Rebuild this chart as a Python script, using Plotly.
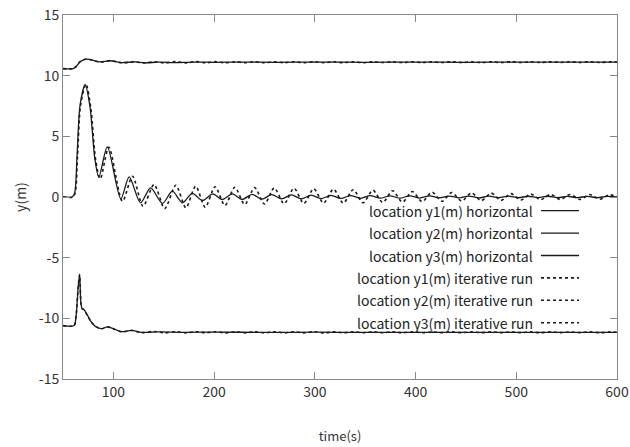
import plotly.graph_objects as go

# ---- data ----
t_top = [50, 60, 63, 67, 73.5, 79, 86.8, 96.7, 108, 121.5, 131, 145, 160, 180, 200, 230, 260, 300, 350, 400, 450, 500, 550, 600]
y1_h = [10.58, 10.58, 10.75, 11.15, 11.37, 11.28, 11.13, 11.23, 11.08, 11.13, 11.05, 11.12, 11.08, 11.12, 11.1, 11.12, 11.1, 11.12, 11.1, 11.12, 11.1, 11.12, 11.11, 11.12]
t_top_d = [50, 60, 63, 67, 73.5, 79, 86.8, 96.7, 108, 121.5, 131, 141, 151, 162, 172, 182, 192, 201, 211, 221, 231, 240, 250, 260, 270, 279, 289, 299, 309, 319, 328, 338, 348, 358, 367, 377, 387, 397, 407, 416, 426, 436, 446, 456, 465, 475, 485, 495, 505, 514, 524, 534, 544, 553, 563, 573, 583, 593, 600]
y1_i = [10.58, 10.58, 10.75, 11.15, 11.38, 11.28, 11.12, 11.24, 11.07, 11.14, 11.04, 11.15, 11.05, 11.16, 11.05, 11.16, 11.06, 11.16, 11.06, 11.15, 11.06, 11.15, 11.06, 11.15, 11.07, 11.15, 11.07, 11.15, 11.07, 11.15, 11.07, 11.15, 11.07, 11.14, 11.08, 11.14, 11.08, 11.14, 11.08, 11.14, 11.08, 11.14, 11.08, 11.14, 11.08, 11.14, 11.08, 11.14, 11.08, 11.14, 11.09, 11.14, 11.09, 11.14, 11.09, 11.14, 11.09, 11.14, 11.12]

t_mid_h = [50, 59, 61.5, 64, 67, 72, 76.7, 81.7, 85.6, 94, 107.4, 115.7, 127, 137, 148.7, 158.6, 168.5, 178.4, 188.3, 198.8, 208, 218.1, 227.9, 237.7, 247.5, 257.2, 267, 276.8, 286.6, 296.4, 306.2, 316, 325.8, 335.6, 345.4, 355.1, 364.9, 374.7, 384.5, 394.3, 404.1, 413.9, 423.7, 433.5, 443.3, 453, 462.8, 472.6, 482.4, 492.2, 502, 511.8, 521.6, 531.4, 541.2, 550.9, 560.7, 570.5, 580.3, 590.1, 600]
y2_h = [0, 0, 0.3, 3.5, 7.6, 9.26, 7.5, 3.1, 1.63, 4.13, -0.15, 1.66, -0.48, 0.76, -0.53, 0.48, -0.48, 0.3, -0.29, 0.26, -0.2, 0.26, -0.2, 0.22, -0.18, 0.2, -0.16, 0.18, -0.15, 0.15, -0.14, 0.14, -0.12, 0.12, -0.11, 0.12, -0.1, 0.1, -0.1, 0.1, -0.09, 0.09, -0.08, 0.08, -0.07, 0.08, -0.07, 0.07, -0.06, 0.07, -0.06, 0.06, -0.05, 0.06, -0.05, 0.05, -0.05, 0.05, -0.05, 0.05, 0.0]

t_mid_i = [50, 59.5, 62, 64.5, 67.5, 72.8, 77.5, 82.5, 87, 95.5, 109, 119, 129.5, 140.4, 151, 162, 172, 181.7, 191.2, 201, 210.8, 220.6, 230.4, 240.2, 250, 259.7, 269.5, 279.3, 289.1, 298.9, 308.7, 318.5, 328.3, 338.1, 347.9, 357.6, 367.4, 377.2, 387, 396.8, 406.6, 416.4, 426.2, 436, 445.8, 455.5, 465.3, 475.1, 484.9, 494.7, 504.5, 514.3, 524.1, 533.9, 543.7, 553.4, 563.2, 573, 582.8, 592.6, 600]
y2_i = [0, 0, 0.3, 3.5, 7.6, 9.3, 7.4, 3.0, 1.5, 4.1, -0.35, 1.71, -0.76, 1.03, -0.95, 0.97, -0.89, 0.89, -0.84, 0.85, -0.7, 0.8, -0.62, 0.78, -0.58, 0.75, -0.55, 0.72, -0.53, 0.68, -0.5, 0.64, -0.5, 0.6, -0.48, 0.56, -0.45, 0.52, -0.42, 0.45, -0.38, 0.4, -0.35, 0.37, -0.33, 0.34, -0.3, 0.32, -0.28, 0.28, -0.25, 0.24, -0.22, 0.22, -0.2, 0.2, -0.2, 0.2, -0.18, 0.18, 0.0]

t_bot = [50, 61, 63, 65, 66.5, 67.8, 69, 71, 74, 78, 82, 88, 94, 100, 108, 118, 128, 145, 170, 200, 250, 300, 350, 400, 450, 500, 550, 600]
y3_h = [-10.6, -10.6, -9.8, -7.5, -6.38, -8.8, -9.2, -9.3, -9.7, -10.3, -10.65, -10.85, -10.7, -10.85, -11.1, -11.0, -11.16, -11.12, -11.15, -11.13, -11.16, -11.14, -11.16, -11.15, -11.16, -11.15, -11.16, -11.16]
t_bot_d = [50, 61, 63, 65, 66.5, 67.8, 69, 71, 74, 78, 82, 88, 94, 100, 108, 118, 128, 140, 151, 162, 172, 182, 192, 201, 211, 221, 231, 240, 250, 260, 270, 279, 289, 299, 309, 319, 328, 338, 348, 358, 367, 377, 387, 397, 407, 416, 426, 436, 446, 456, 465, 475, 485, 495, 505, 514, 524, 534, 544, 553, 563, 573, 583, 593, 600]
y3_i = [-10.6, -10.6, -9.8, -7.5, -6.4, -8.7, -9.2, -9.3, -9.75, -10.3, -10.65, -10.87, -10.7, -10.87, -11.12, -11.0, -11.18, -11.08, -11.2, -11.1, -11.2, -11.1, -11.2, -11.1, -11.2, -11.1, -11.2, -11.1, -11.2, -11.1, -11.2, -11.1, -11.2, -11.1, -11.2, -11.11, -11.19, -11.11, -11.19, -11.11, -11.19, -11.11, -11.19, -11.11, -11.19, -11.12, -11.18, -11.12, -11.18, -11.12, -11.18, -11.12, -11.18, -11.12, -11.18, -11.12, -11.18, -11.12, -11.18, -11.12, -11.18, -11.12, -11.18, -11.12, -11.15]

legend_labels = ["location y1(m) horizontal", "location y2(m) horizontal", "location y3(m) horizontal",
                 "location y1(m) iterative run", "location y2(m) iterative run", "location y3(m) iterative run"]
x_ticks = [100, 200, 300, 400, 500, 600]
x_tick_text = ["100", "200", "300", "400", "500", "600"]
y_ticks = [-15, -10, -5, 0, 5, 10, 15]
y_tick_text = ["-15", "-10", "-5", "0", "5", "10", "15"]

FONT = "Noto Sans CJK KR"
LC = "#1a1a1a"

fig = go.Figure()
series = [
    (t_top, y1_h, "solid"), (t_mid_h, y2_h, "solid"), (t_bot, y3_h, "solid"),
    (t_top_d, y1_i, "dot"), (t_mid_i, y2_i, "dot"), (t_bot_d, y3_i, "dot"),
]
for (tx, ty, dash), name in zip(series, legend_labels):
    fig.add_trace(go.Scatter(x=tx, y=ty, mode="lines", name=name, showlegend=False,
                             line=dict(color=LC, width=1.3 if dash == "solid" else 1.6,
                                       dash=dash, shape="spline", smoothing=0.8)))

# custom legend: text right-aligned, sample line on the right
leg_y0 = 210.7
leg_dy = 22.4
PX0, PX1, PY0, PY1 = 63, 617, 15, 379
for i, name in enumerate(legend_labels):
    ypx = leg_y0 + i * leg_dy
    yp = 1 - (ypx - PY0) / (PY1 - PY0)
    fig.add_annotation(x=(535 - PX0) / (PX1 - PX0), y=yp, xref="paper", yref="paper",
                       text=name, showarrow=False, xanchor="right", yanchor="middle",
                       font=dict(family=FONT, size=14, color="#222"))
    fig.add_shape(type="line", xref="paper", yref="paper",
                  x0=(541 - PX0) / (PX1 - PX0), x1=(579 - PX0) / (PX1 - PX0), y0=yp, y1=yp,
                  line=dict(color=LC, width=1.3 if i < 3 else 1.6, dash="solid" if i < 3 else "dot"))

axis_common = dict(showline=True, linecolor="#888", linewidth=1, mirror="ticks",
                   ticks="inside", ticklen=7, tickcolor="#888", showgrid=False, zeroline=False,
                   automargin=False, tickfont=dict(family=FONT, size=14, color="#333"))
fig.update_xaxes(range=[50, 600], tickvals=x_ticks, ticktext=x_tick_text,
                 title=dict(text="time(s)", standoff=32, font=dict(family=FONT, size=13, color="#333")),
                 **axis_common)
fig.update_yaxes(range=[-15, 15], tickvals=y_ticks, ticktext=y_tick_text,
                 title=dict(text="y(m)", standoff=8, font=dict(family=FONT, size=14, color="#333")),
                 **axis_common)
fig.update_layout(width=630, height=447, margin=dict(l=63, r=13, t=15, b=68),
                  plot_bgcolor="white", paper_bgcolor="white", font=dict(family=FONT))
fig.write_html("out.html")
